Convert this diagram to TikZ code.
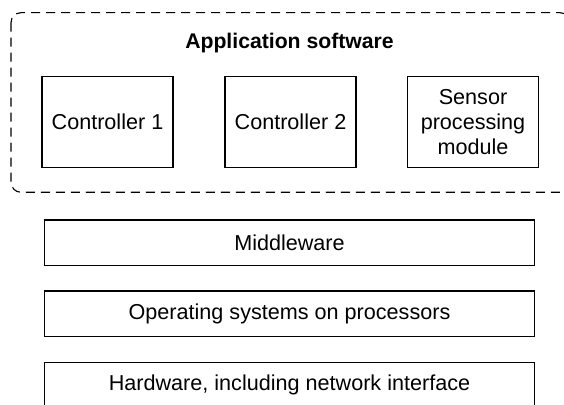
\documentclass[tikz,border=0pt]{standalone}
\usepackage{fontspec}
\setmainfont{Liberation Sans}
\begin{document}
\begin{tikzpicture}[x=0.5pt,y=-0.5pt,
  every node/.style={font=\fontsize{10.8}{12.6}\selectfont},
  appbox/.style={draw, line width=0.65pt, minimum width=65.5pt, minimum height=45.5pt, inner sep=0pt, align=center},
  layerbox/.style={draw, line width=0.65pt, minimum width=244.8pt, minimum height=22.6pt, inner sep=0pt},
  group/.style={draw, line width=0.55pt, dash pattern=on 4.5pt off 3pt, rounded corners=5pt}]
\useasboundingbox (0,0) rectangle (564,405);
\draw[group] (11,12.7) rectangle (570,192.3);
\node[font=\fontsize{10.6}{12.6}\selectfont\bfseries] (title) at (289.5,43) {Application software};
\node[appbox] (c1) at (107.5,122) {Controller 1};
\node[appbox] (c2) at (290.5,122) {Controller 2};
\node[appbox] (sp) at (473,122) {Sensor\\processing\\module};
\node[layerbox] (mw) at (289.5,242.7) {Middleware};
\node[layerbox] (os) at (289.5,313.7) {Operating systems on processors};
\node[layerbox] (hw) at (289.5,385.2) {Hardware, including network interface};
\end{tikzpicture}
\end{document}
